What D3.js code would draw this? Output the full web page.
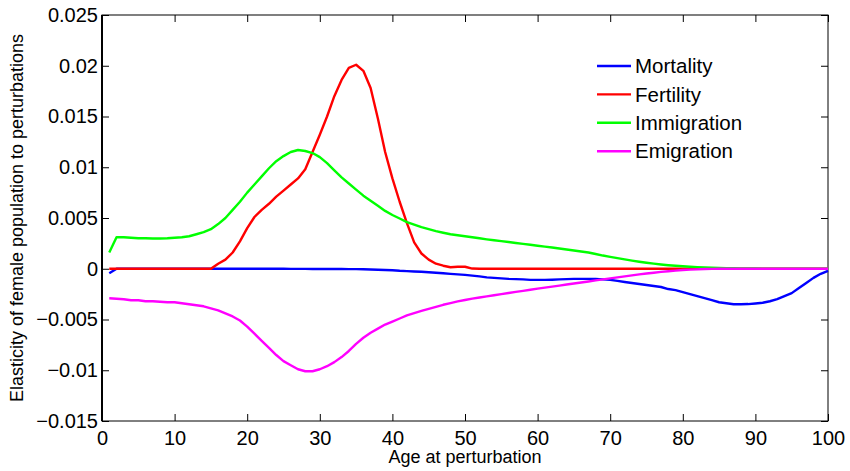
<!DOCTYPE html>
<html>
<head>
<meta charset="utf-8">
<script src="https://cdn.jsdelivr.net/npm/d3@7/dist/d3.min.js"></script>
<style>
  html, body { margin: 0; padding: 0; background: #fff; }
  svg { display: block; }
  text { font-family: "Liberation Sans", Arial, Helvetica, sans-serif; fill: #000; }
</style>
</head>
<body>
<svg id="chart" width="850" height="471"></svg>
<script>
// ---- data ----
const ages = d3.range(1, 101);

const mortality = [
  -0.00045, 0, 0, 0, 0, 0, 0, 0, 0, 0,
  0, 0, 0, 0, 0, 0, 0, 0, 0, 0,
  0, 0, 0, 0, 0, -0.00001, -0.00001, -0.00001, -0.00002, -0.00002,
  -0.00003, -0.00003, -0.00003, -0.00004, -0.00004, -0.00005, -0.00007, -0.0001, -0.00012, -0.00015,
  -0.0002, -0.00023, -0.00027, -0.0003, -0.00035, -0.0004, -0.00045, -0.0005, -0.00055, -0.0006,
  -0.00068, -0.00075, -0.00085, -0.0009, -0.00095, -0.001, -0.00102, -0.00105, -0.0011, -0.0011,
  -0.0011, -0.00108, -0.00105, -0.00102, -0.001, -0.001, -0.001, -0.001, -0.00105, -0.0011,
  -0.0012, -0.0013, -0.0014, -0.0015, -0.0016, -0.0017, -0.0018, -0.002, -0.0021, -0.0023,
  -0.0025, -0.0027, -0.0029, -0.0031, -0.0033, -0.0034, -0.0035, -0.0035, -0.00348, -0.00342,
  -0.00335, -0.0032, -0.003, -0.0027, -0.0024, -0.0019, -0.0014, -0.0009, -0.0005, -0.0002
];

const fertility = [
  0, 0, 0, 0, 0, 0, 0, 0, 0, 0,
  0, 0, 0, 0, 0, 0.0005, 0.0009, 0.0016, 0.0027, 0.004,
  0.0051, 0.0058, 0.0064, 0.0071, 0.0077, 0.0083, 0.0089, 0.0098, 0.0115, 0.0132,
  0.015, 0.017, 0.0186, 0.0198, 0.0201, 0.0195, 0.0178, 0.0148, 0.0115, 0.0089,
  0.0066, 0.0045, 0.0026, 0.0015, 0.0009, 0.0005, 0.0003, 0.00015, 0.0002, 0.0002,
  0.00002, 0, 0, 0, 0, 0, 0, 0, 0, 0,
  0, 0, 0, 0, 0, 0, 0, 0, 0, 0,
  0, 0, 0, 0, 0, 0, 0, 0, 0, 0,
  0, 0, 0, 0, 0, 0, 0, 0, 0, 0,
  0, 0, 0, 0, 0, 0, 0, 0, 0, 0
];

const immigration = [
  0.0016, 0.0031, 0.0031, 0.00305, 0.003, 0.003, 0.00298, 0.00298, 0.003, 0.00305,
  0.0031, 0.0032, 0.0034, 0.0036, 0.0039, 0.0044, 0.005, 0.0058, 0.0066, 0.0075,
  0.0083, 0.0091, 0.0099, 0.0106, 0.0111, 0.0115, 0.0117, 0.0116, 0.0114, 0.011,
  0.0104, 0.0097, 0.009, 0.0084, 0.0078, 0.0072, 0.0067, 0.0062, 0.0057, 0.0053,
  0.00495, 0.0046, 0.00435, 0.0041, 0.0039, 0.0037, 0.00355, 0.0034, 0.0033, 0.0032,
  0.0031, 0.003, 0.0029, 0.00281, 0.00272, 0.00263, 0.00254, 0.00245, 0.00236, 0.00227,
  0.00218, 0.00209, 0.002, 0.0019, 0.0018, 0.0017, 0.0016, 0.00145, 0.0013, 0.00117,
  0.00104, 0.00092, 0.0008, 0.00069, 0.00059, 0.0005, 0.00042, 0.00035, 0.00029, 0.00024,
  0.0002, 0.00016, 0.00013, 0.0001, 0.00008, 0.00006, 0.00005, 0.00004, 0.00003, 0.00002,
  0.00001, 0.00001, 0.00001, 0.00001, 0, 0, 0, 0, 0, 0
];

const emigration = [
  -0.0029, -0.00295, -0.003, -0.0031, -0.0031, -0.0032, -0.0032, -0.00325, -0.0033, -0.0033,
  -0.0034, -0.0035, -0.0036, -0.0037, -0.0039, -0.0041, -0.0044, -0.0047, -0.0051, -0.0057,
  -0.0064, -0.0071, -0.0078, -0.0085, -0.0091, -0.0095, -0.0099, -0.0101, -0.0101, -0.0099,
  -0.0096, -0.0092, -0.0087, -0.0081, -0.0074, -0.0068, -0.0063, -0.0059, -0.0055, -0.0052,
  -0.0049, -0.0046, -0.00438, -0.00416, -0.00395, -0.00375, -0.00355, -0.00338, -0.00322, -0.00308,
  -0.00295, -0.00283, -0.00272, -0.00261, -0.0025, -0.00239, -0.00228, -0.00218, -0.00207, -0.00196,
  -0.00186, -0.00176, -0.00166, -0.00155, -0.00145, -0.00135, -0.00125, -0.00115, -0.00105, -0.00095,
  -0.00085, -0.00075, -0.00065, -0.00056, -0.00047, -0.00039, -0.00031, -0.00024, -0.00018, -0.00013,
  -0.00009, -0.00006, -0.00003, -0.00001, 0, 0, 0, 0, 0, 0,
  0, 0, 0, 0, 0, 0, 0, 0, 0, 0
];

const seriesNames = ["Mortality", "Fertility", "Immigration", "Emigration"];
const seriesColors = ["#0000ff", "#ff0000", "#00ff00", "#ff00ff"];
const seriesValues = [mortality, fertility, immigration, emigration];

const xTicks = [0, 10, 20, 30, 40, 50, 60, 70, 80, 90, 100];
const xTickLabels = ["0", "10", "20", "30", "40", "50", "60", "70", "80", "90", "100"];
const yTicks = [0.025, 0.02, 0.015, 0.01, 0.005, 0, -0.005, -0.01, -0.015];
const yTickLabels = ["0.025", "0.02", "0.015", "0.01", "0.005", "0", "\u22120.005", "\u22120.01", "\u22120.015"];

const xLabel = "Age at perturbation";
const yLabel = "Elasticity of female population to perturbations";

// ---- layout ----
const L = 102, R = 828, T = 15, B = 421;
const svg = d3.select("#chart");

const x = d3.scaleLinear().domain([0, 100]).range([L, R]);
const y = d3.scaleLinear().domain([-0.015, 0.025]).range([B, T]);

const tickLen = 7;
const xLabelMap = new Map(xTicks.map((t, i) => [t, xTickLabels[i]]));
const yLabelMap = new Map(yTicks.map((t, i) => [t, yTickLabels[i]]));

// bottom axis
const gB = svg.append("g").attr("transform", `translate(0,${B})`)
  .call(d3.axisBottom(x).tickValues(xTicks).tickSizeInner(-tickLen).tickSizeOuter(0)
    .tickPadding(10).tickFormat(d => xLabelMap.get(d)));
gB.select(".domain").remove();
gB.selectAll("text").attr("font-size", 20).attr("dy", "0.71em");
gB.selectAll("line").attr("stroke", "#000");

// top axis ticks
const gT = svg.append("g").attr("transform", `translate(0,${T})`)
  .call(d3.axisTop(x).tickValues(xTicks).tickSizeInner(-tickLen).tickSizeOuter(0).tickFormat(""));
gT.select(".domain").remove();
gT.selectAll("line").attr("stroke", "#000");

// left axis
const gL = svg.append("g").attr("transform", `translate(${L},0)`)
  .call(d3.axisLeft(y).tickValues(yTicks).tickSizeInner(-tickLen).tickSizeOuter(0)
    .tickPadding(5).tickFormat(d => yLabelMap.get(d)));
gL.select(".domain").remove();
gL.selectAll("text").attr("font-size", 20).attr("x", -4);
gL.selectAll("line").attr("stroke", "#000");

// right axis ticks
const gR = svg.append("g").attr("transform", `translate(${R},0)`)
  .call(d3.axisRight(y).tickValues(yTicks).tickSizeInner(-tickLen).tickSizeOuter(0).tickFormat(""));
gR.select(".domain").remove();
gR.selectAll("line").attr("stroke", "#000");

// frame
svg.append("rect").attr("x", L).attr("y", T).attr("width", R - L).attr("height", B - T)
  .attr("fill", "none").attr("stroke", "#000").attr("stroke-width", 1);
svg.append("line").attr("x1", L).attr("x2", L).attr("y1", T).attr("y2", B)
  .attr("stroke", "#000").attr("stroke-width", 2);

// lines
const line = d3.line().x((d, i) => x(ages[i])).y(d => y(d));
seriesValues.forEach((vals, k) => {
  svg.append("path").datum(vals)
    .attr("d", line)
    .attr("fill", "none")
    .attr("stroke", seriesColors[k])
    .attr("stroke-width", 2.4)
    .attr("stroke-linejoin", "round");
});

// legend
const legX1 = 597, legX2 = 631, legY0 = 66, legDy = 28.4;
seriesNames.forEach((name, k) => {
  const yy = legY0 + k * legDy;
  svg.append("line").attr("x1", legX1).attr("x2", legX2).attr("y1", yy).attr("y2", yy)
    .attr("stroke", seriesColors[k]).attr("stroke-width", 2.4);
  svg.append("text").attr("x", 635).attr("y", yy).attr("dy", "0.35em")
    .attr("font-size", 20.5).text(name);
});

// axis labels
svg.append("text").attr("x", (L + R) / 2).attr("y", 463).attr("text-anchor", "middle")
  .attr("font-size", 18).text(xLabel);
svg.append("text").attr("transform", `translate(23,${(T + B) / 2}) rotate(-90)`)
  .attr("text-anchor", "middle").attr("font-size", 18).text(yLabel);
</script>
</body>
</html>
